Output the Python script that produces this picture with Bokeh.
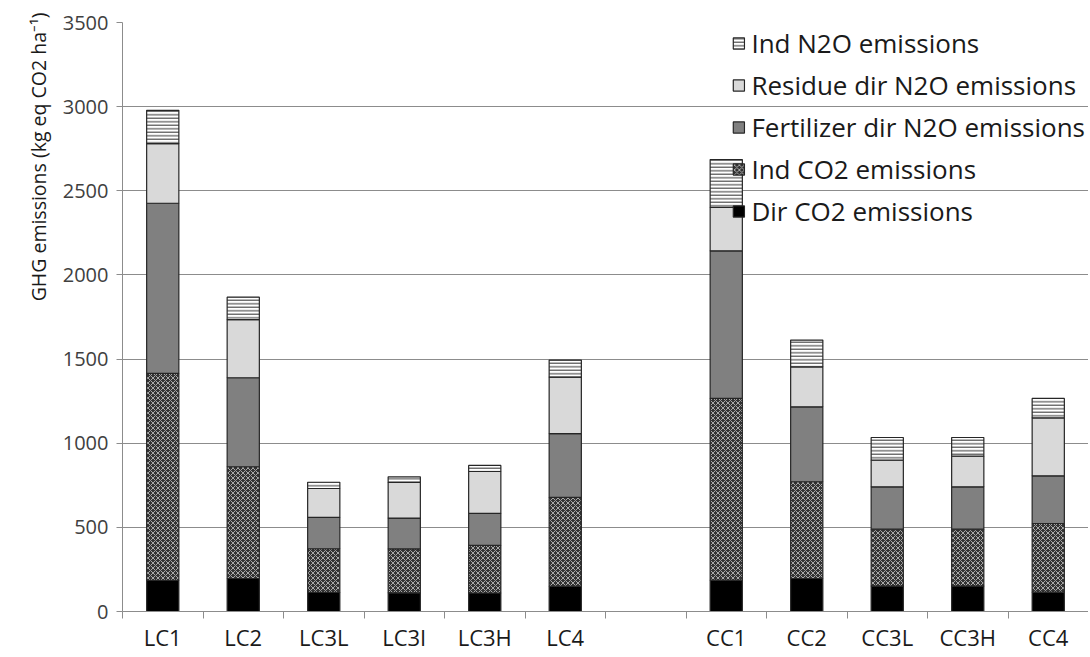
import numpy as np
from bokeh.plotting import figure
from bokeh.models import FixedTicker, Range1d, Legend, LegendItem, ColumnDataSource, Title
from bokeh.embed import file_html
from bokeh.resources import INLINE

categories = ["LC1", "LC2", "LC3L", "LC3I", "LC3H", "LC4", " ",
              "CC1", "CC2", "CC3L", "CC3H", "CC4"]
dir_co2 = [185, 196, 114, 111, 110, 150, 0, 186, 196, 151, 151, 115]
ind_co2 = [1230, 664, 259, 261, 283, 528, 0, 1080, 575, 338, 338, 408]
fert_n2o = [1011, 529, 186, 183, 190, 379, 0, 877, 445, 252, 252, 283]
resid_n2o = [354, 345, 172, 212, 249, 336, 0, 258, 238, 158, 182, 345]
ind_n2o = [198, 134, 37, 33, 36, 101, 0, 285, 159, 135, 111, 115]
series_names = ["Dir CO2 emissions", "Ind CO2 emissions", "Fertilizer dir N2O emissions",
                "Residue dir N2O emissions", "Ind N2O emissions"]
y_ticks = [0, 500, 1000, 1500, 2000, 2500, 3000, 3500]
y_label = "GHG emissions (kg eq CO2 ha\u207b\u00b9)"

FONT = "Open Sans"
series = [dir_co2, ind_co2, fert_n2o, resid_n2o, ind_n2o]
styles = [
    dict(fill_color="black"),
    dict(fill_color="#333333", hatch_pattern="diagonal_cross", hatch_color="#a8a8a8",
         hatch_scale=5, hatch_weight=1),
    dict(fill_color="#808080"),
    dict(fill_color="#d9d9d9"),
    dict(fill_color="white", hatch_pattern="horizontal_line", hatch_color="#303030",
         hatch_scale=3.5, hatch_weight=1),
]

n = len(categories)
xc = np.arange(n) + 0.5
mask = np.array([c.strip() != "" for c in categories])
y_max = y_ticks[-1]

p = figure(width=1088, height=655, output_backend="svg", toolbar_location=None,
           x_range=Range1d(0, n), y_range=Range1d(0, y_max),
           min_border_left=122, min_border_top=22, min_border_right=0, min_border_bottom=44)
p.outline_line_color = None
p.background_fill_color = "white"

bottom = np.zeros(n)
renderers = []
for vals, st in zip(series, styles):
    v = np.array(vals, dtype=float)
    src = ColumnDataSource(dict(x=xc[mask], bottom=bottom[mask], top=(bottom + v)[mask]))
    r = p.vbar(x="x", bottom="bottom", top="top", width=0.4, source=src,
               line_color="#262626", line_width=1.2, **st)
    renderers.append(r)
    bottom = bottom + v

# legend (reverse order, top right)
items = [LegendItem(label=name, renderers=[r]) for name, r in zip(series_names, renderers)][::-1]
legend = Legend(items=items, location="top_right", border_line_color=None,
                background_fill_alpha=0.0, label_text_font=FONT, label_text_font_size="26px",
                label_text_color="#1a1a1a", glyph_width=14, glyph_height=14,
                spacing=6, padding=4, margin=3, label_standoff=6, label_height=34)
p.add_layout(legend)

# x axis
p.xaxis.ticker = FixedTicker(ticks=list(xc), minor_ticks=list(range(n + 1)))
p.xaxis.major_label_overrides = {float(x): c for x, c in zip(xc, categories)}
p.xaxis.major_tick_out = 0
p.xaxis.major_tick_in = 0
p.xaxis.minor_tick_out = 7
p.xaxis.minor_tick_in = 0
p.xaxis.minor_tick_line_color = "#8c8c8c"
p.xaxis.axis_line_color = "#8c8c8c"
p.xaxis.major_label_text_font = FONT
p.xaxis.major_label_text_font_size = "22px"
p.xaxis.major_label_text_color = "#1a1a1a"
p.xaxis.major_label_standoff = 3
p.xgrid.grid_line_color = None

# y axis
p.yaxis.ticker = FixedTicker(ticks=y_ticks)
p.yaxis.major_label_text_font = FONT
p.yaxis.major_label_text_font_size = "20px"
p.yaxis.major_label_text_color = "#404040"
p.yaxis.major_tick_out = 6
p.yaxis.major_tick_in = 0
p.yaxis.minor_tick_line_color = None
p.yaxis.axis_line_color = "#8c8c8c"
p.yaxis.major_tick_line_color = "#8c8c8c"
p.yaxis.major_label_standoff = 8
p.ygrid.grid_line_color = "#8c8c8c"
p.ygrid.grid_line_width = 1

# y axis title, placed toward the top as in the reference
p.add_layout(Title(text=y_label, align="right", text_font=FONT, text_font_size="19.5px",
                   text_font_style="normal", text_color="#1a1a1a", offset=-10,
                   standoff=16), "left")

open("out.html", "w").write(file_html(p, INLINE))
